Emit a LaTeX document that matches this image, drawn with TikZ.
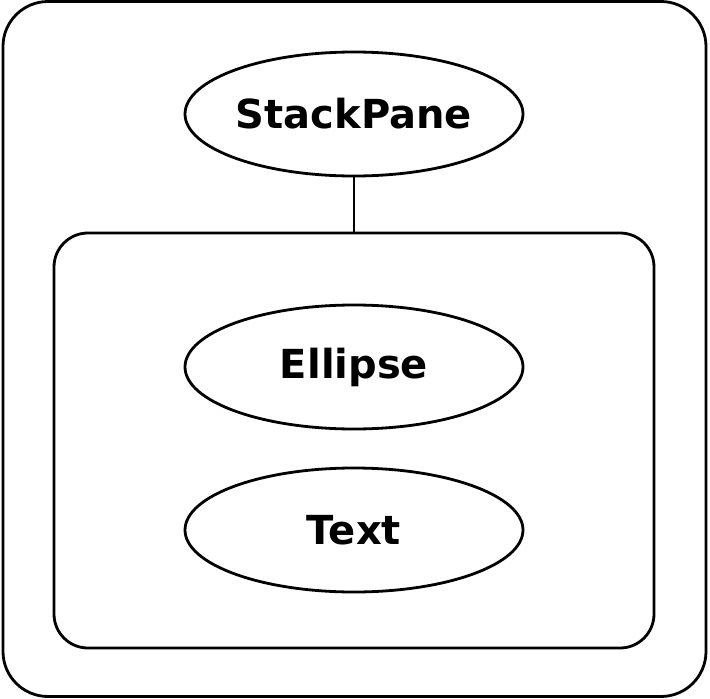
\documentclass[tikz,border=0pt]{standalone}
\usepackage{fontspec}
\newfontfamily\diagfont{DejaVu Sans}
\usetikzlibrary{shapes.geometric}
\tikzset{
    frame/.style={draw, rounded corners=#1, inner sep=0pt, outer sep=0pt},
    oval/.style={draw, ellipse, minimum width=338pt, minimum height=124pt, inner sep=0pt,
        font=\diagfont\bfseries\fontsize{40}{48}\selectfont}
}

\begin{document}
\begin{tikzpicture}[x=1pt, y=-1pt, line width=2.8pt]
        \useasboundingbox (0,0) rectangle (710,699);
        \node[frame=45pt, minimum width=703pt, minimum height=695pt] (Stage) at (354.5,349) {};
        \node[frame=34pt, minimum width=600pt, minimum height=415pt] (Children) at (354,440.5) {};
        \node[oval] (StackPane) at (354,114) {StackPane};
        \node[oval] (Ellipse)   at (354,367) {Ellipse};
        \node[oval] (Text)      at (354,530) {Text};
        \draw (StackPane.south) -- (Children.north);
    \end{tikzpicture}
\end{document}
